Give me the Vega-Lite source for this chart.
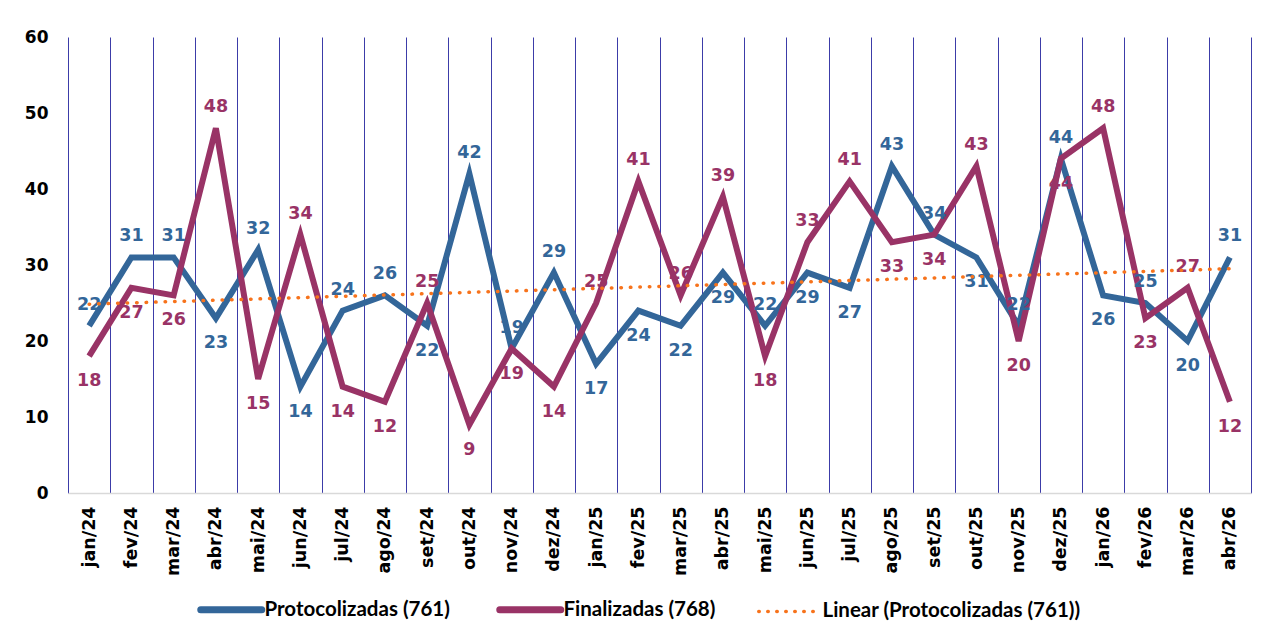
{
  "$schema": "https://vega.github.io/schema/vega-lite/v6.json",
  "width": 1183,
  "height": 456,
  "autosize": {"type": "none"},
  "padding": {"left": 68, "top": 37, "right": 14, "bottom": 145},
  "background": "white",
  "config": {
    "view": {"stroke": null},
    "font": "DejaVu Sans",
    "axis": {"labelFont": "DejaVu Sans", "labelFontWeight": "bold", "labelColor": "#000000"},
    "legend": {"labelFont": "Lato"}
  },
  "data": {
    "values": [
      {"mes": "jan/24", "prot": 22, "fin": 18},
      {"mes": "fev/24", "prot": 31, "fin": 27},
      {"mes": "mar/24", "prot": 31, "fin": 26},
      {"mes": "abr/24", "prot": 23, "fin": 48},
      {"mes": "mai/24", "prot": 32, "fin": 15},
      {"mes": "jun/24", "prot": 14, "fin": 34},
      {"mes": "jul/24", "prot": 24, "fin": 14},
      {"mes": "ago/24", "prot": 26, "fin": 12},
      {"mes": "set/24", "prot": 22, "fin": 25},
      {"mes": "out/24", "prot": 42, "fin": 9},
      {"mes": "nov/24", "prot": 19, "fin": 19},
      {"mes": "dez/24", "prot": 29, "fin": 14},
      {"mes": "jan/25", "prot": 17, "fin": 25},
      {"mes": "fev/25", "prot": 24, "fin": 41},
      {"mes": "mar/25", "prot": 22, "fin": 26},
      {"mes": "abr/25", "prot": 29, "fin": 39},
      {"mes": "mai/25", "prot": 22, "fin": 18},
      {"mes": "jun/25", "prot": 29, "fin": 33},
      {"mes": "jul/25", "prot": 27, "fin": 41},
      {"mes": "ago/25", "prot": 43, "fin": 33},
      {"mes": "set/25", "prot": 34, "fin": 34},
      {"mes": "out/25", "prot": 31, "fin": 43},
      {"mes": "nov/25", "prot": 22, "fin": 20},
      {"mes": "dez/25", "prot": 44, "fin": 44},
      {"mes": "jan/26", "prot": 26, "fin": 48},
      {"mes": "fev/26", "prot": 25, "fin": 23},
      {"mes": "mar/26", "prot": 20, "fin": 27},
      {"mes": "abr/26", "prot": 31, "fin": 12}
    ]
  },
  "resolve": {"scale": {"x": "independent"}, "axis": {"x": "independent"}},
  "layer": [
    {
      "encoding": {
        "x": {
          "field": "mes", "type": "nominal", "sort": null, "title": null,
          "scale": {"type": "point", "padding": 0.5},
          "axis": {"labelAngle": -90, "labelFontSize": 17.5, "labelPadding": 13, "ticks": false, "grid": false, "domainColor": "#D9D9D9", "domainWidth": 1.5}
        },
        "y": {
          "type": "quantitative", "title": null,
          "scale": {"domain": [0, 60]},
          "axis": {"values": [0, 10, 20, 30, 40, 50, 60], "grid": false, "domain": false, "ticks": false, "labelFontSize": 17, "labelPadding": 20}
        }
      },
      "layer": [
        {
          "mark": {"type": "line", "strokeWidth": 6, "strokeJoin": "miter"},
          "encoding": {"y": {"field": "prot"}, "color": {"datum": "Protocolizadas (761)"}}
        },
        {
          "mark": {"type": "line", "strokeWidth": 6, "strokeJoin": "miter"},
          "encoding": {"y": {"field": "fin"}, "color": {"datum": "Finalizadas (768)"}}
        },
        {
          "transform": [{"filter": "datum.prot >= datum.fin"}],
          "mark": {"type": "text", "fontSize": 17.5, "fontWeight": "bold", "color": "#336699", "dy": -21},
          "encoding": {"y": {"field": "prot"}, "text": {"field": "prot"}}
        },
        {
          "transform": [{"filter": "datum.prot < datum.fin"}],
          "mark": {"type": "text", "fontSize": 17.5, "fontWeight": "bold", "color": "#336699", "dy": 25},
          "encoding": {"y": {"field": "prot"}, "text": {"field": "prot"}}
        },
        {
          "transform": [{"filter": "datum.fin > datum.prot"}],
          "mark": {"type": "text", "fontSize": 17.5, "fontWeight": "bold", "color": "#993366", "dy": -21},
          "encoding": {"y": {"field": "fin"}, "text": {"field": "fin"}}
        },
        {
          "transform": [{"filter": "datum.fin <= datum.prot"}],
          "mark": {"type": "text", "fontSize": 17.5, "fontWeight": "bold", "color": "#993366", "dy": 25},
          "encoding": {"y": {"field": "fin"}, "text": {"field": "fin"}}
        }
      ]
    },
    {
      "transform": [
        {"window": [{"op": "row_number", "as": "n"}]},
        {"regression": "prot", "on": "n"}
      ],
      "mark": {"type": "line", "strokeWidth": 3.5, "strokeDash": [0.5, 9], "strokeCap": "round"},
      "encoding": {
        "x": {
          "field": "n", "type": "quantitative", "title": null,
          "scale": {"domain": [0.5, 28.5], "nice": false, "zero": false},
          "axis": {"orient": "top", "values": [0.5, 1.5, 2.5, 3.5, 4.5, 5.5, 6.5, 7.5, 8.5, 9.5, 10.5, 11.5, 12.5, 13.5, 14.5, 15.5, 16.5, 17.5, 18.5, 19.5, 20.5, 21.5, 22.5, 23.5, 24.5, 25.5, 26.5, 27.5, 28.5], "labels": false, "ticks": false, "domain": false, "grid": true, "gridColor": "#3C3CA8", "gridWidth": 1, "gridOpacity": 1}
        },
        "y": {"field": "prot", "type": "quantitative", "title": null},
        "color": {
          "datum": "Linear (Protocolizadas (761))",
          "scale": {
            "domain": ["Protocolizadas (761)", "Finalizadas (768)", "Linear (Protocolizadas (761))"],
            "range": ["#336699", "#993366", "#F7731C"]
          },
          "legend": {
            "title": null, "orient": "none", "direction": "horizontal", "legendX": 153, "legendY": 562,
            "symbolType": "stroke", "symbolSize": 3721, "symbolStrokeWidth": 7,
            "labelFontSize": 20.5, "labelFontWeight": "bold", "labelColor": "#000000", "labelOffset": 23,
            "columnPadding": 35, "labelLimit": 400,
            "encode": {
              "symbols": {
                "update": {
                  "strokeDash": {"signal": "datum.value == 'Linear (Protocolizadas (761))' ? [0.5, 8.5] : [1, 0]"},
                  "strokeWidth": {"signal": "datum.value == 'Linear (Protocolizadas (761))' ? 3.5 : 7"},
                  "strokeCap": {"value": "round"}
                }
              }
            }
          }
        }
      }
    }
  ]
}
